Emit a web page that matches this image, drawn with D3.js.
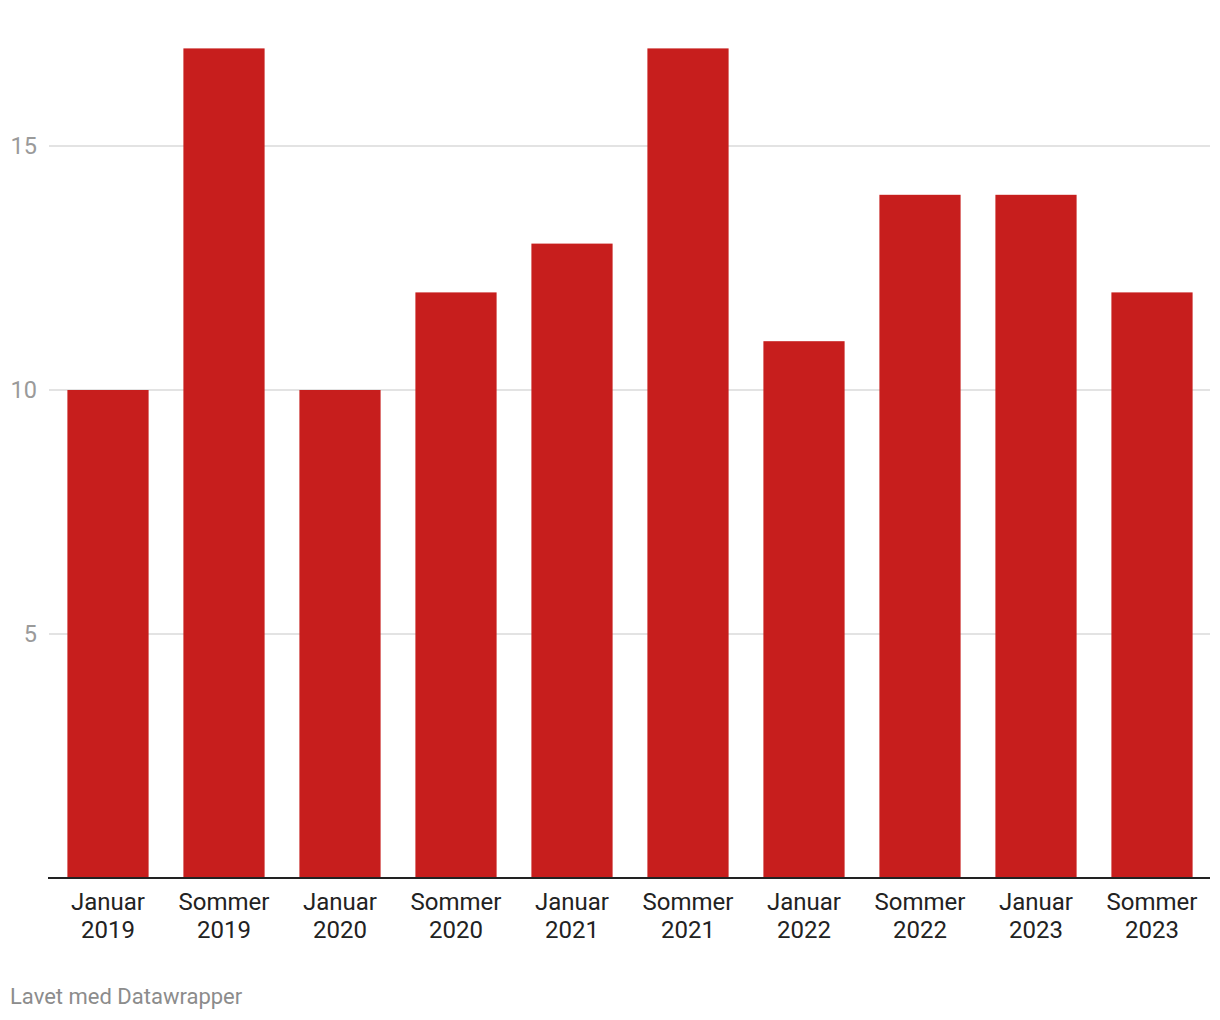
<!DOCTYPE html>
<html><head><meta charset="utf-8">
<script src="https://cdn.jsdelivr.net/npm/d3@7"></script>
<style>
body{margin:0;background:#fff;}
svg text{font-family:Roboto,"Noto Sans",sans-serif;}
</style></head>
<body><svg id="c" width="1220" height="1020"></svg>
<script>
const categories = ["Januar 2019","Sommer 2019","Januar 2020","Sommer 2020","Januar 2021","Sommer 2021","Januar 2022","Sommer 2022","Januar 2023","Sommer 2023"];
const values = [10,17,10,12,13,17,11,14,14,12];
const yTicks = [5,10,15];

const svg = d3.select("#c");
const x = d3.scaleBand().domain(categories).range([50,1210]).paddingInner(0.3).paddingOuter(0.15);
const y = d3.scaleLinear().domain([0,17]).range([878,48.4]);

// gridlines
svg.append("g").selectAll("line").data(yTicks).join("line")
  .attr("x1",49).attr("x2",1210).attr("y1",d=>y(d)).attr("y2",d=>y(d))
  .attr("stroke","#e3e3e3").attr("stroke-width",2);
svg.append("g").selectAll("text").data(yTicks).join("text")
  .attr("x",37).attr("y",d=>y(d)).attr("dy","0.35em").attr("text-anchor","end")
  .attr("font-size",23.5).attr("fill","#9a9a9a").text(d=>d);

// bars
svg.append("g").selectAll("rect").data(values).join("rect")
  .attr("x",(d,i)=>x(categories[i])).attr("width",x.bandwidth())
  .attr("y",d=>y(d)).attr("height",d=>y(0)-y(d)).attr("fill","#c71e1d");

// axis line
svg.append("line").attr("x1",48).attr("x2",1210).attr("y1",878).attr("y2",878)
  .attr("stroke","#222").attr("stroke-width",2);

// x labels
const xl = svg.append("g").selectAll("text").data(categories).join("text")
  .attr("text-anchor","middle").attr("font-size",24).attr("fill","#222")
  .attr("transform",d=>`translate(${x(d)+x.bandwidth()/2},0)`);
xl.each(function(d){
  const parts = d.split(" ");
  const t = d3.select(this);
  t.append("tspan").attr("x",0).attr("y",910).text(parts[0]);
  t.append("tspan").attr("x",0).attr("y",938).text(parts[1]);
});

// footer
svg.append("text").attr("x",10).attr("y",1004).attr("font-size",22).attr("fill","#8c8c8c").text("Lavet med Datawrapper");
</script></body></html>
